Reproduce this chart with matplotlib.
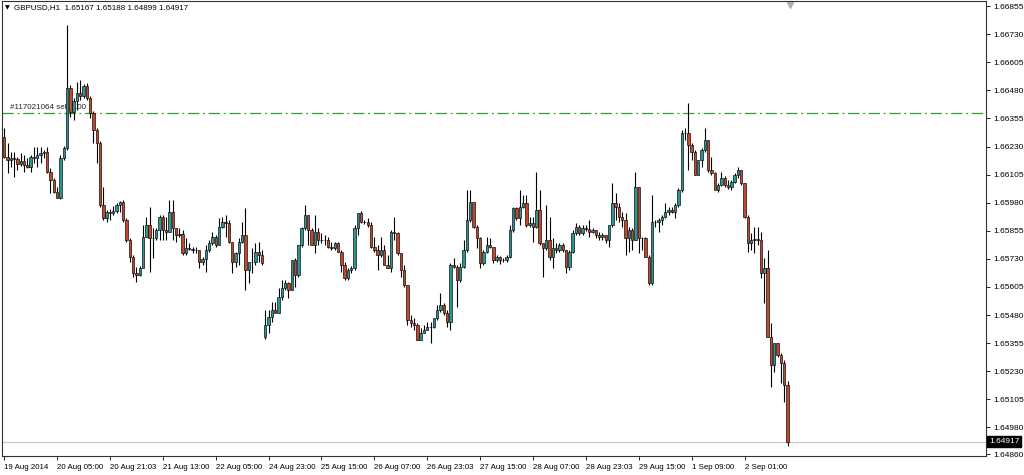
import numpy as np
import matplotlib.pyplot as plt

# GBPUSD H1 candles, 19 Aug 2014 13:00 .. 2 Sep 2014
opens = [
    1.66272, 1.66183, 1.66170, 1.66179, 1.66174, 1.66152, 1.66166, 1.66148, 1.66139, 1.66183,
    1.66179, 1.66192, 1.66201, 1.66205, 1.66116, 1.66080, 1.66027, 1.66000, 1.66179, 1.66223,
    1.66490, 1.66384, 1.66433, 1.66468, 1.66455, 1.66499, 1.66446, 1.66379, 1.66303, 1.66246,
    1.65970, 1.65912, 1.65939, 1.65934, 1.65943, 1.65970, 1.65983, 1.65903, 1.65814, 1.65738,
    1.65667, 1.65658, 1.65689, 1.65827, 1.65881, 1.65823, 1.65823, 1.65858, 1.65916, 1.65858,
    1.65850, 1.65939, 1.65867, 1.65836, 1.65841, 1.65756, 1.65778, 1.65774, 1.65769, 1.65769,
    1.65716, 1.65729, 1.65769, 1.65801, 1.65827, 1.65792, 1.65872, 1.65894, 1.65890, 1.65805,
    1.65716, 1.65756, 1.65805, 1.65836, 1.65680, 1.65716, 1.65716, 1.65760, 1.65747, 1.65382,
    1.65436, 1.65471, 1.65502, 1.65489, 1.65560, 1.65600, 1.65623, 1.65592, 1.65725, 1.65658,
    1.65792, 1.65867, 1.65925, 1.65858, 1.65792, 1.65850, 1.65814, 1.65814, 1.65814, 1.65783,
    1.65778, 1.65801, 1.65760, 1.65703, 1.65645, 1.65680, 1.65689, 1.65867, 1.65934, 1.65894,
    1.65894, 1.65881, 1.65783, 1.65769, 1.65747, 1.65769, 1.65703, 1.65689, 1.65850, 1.65845,
    1.65756, 1.65680, 1.65614, 1.65458, 1.65445, 1.65436, 1.65369, 1.65400, 1.65413, 1.65427,
    1.65425, 1.65467, 1.65502, 1.65525, 1.65489, 1.65449, 1.65703, 1.65694, 1.65636, 1.65694,
    1.65769, 1.65903, 1.65983, 1.65872, 1.65823, 1.65712, 1.65760, 1.65792, 1.65783, 1.65725,
    1.65738, 1.65725, 1.65723, 1.65738, 1.65858, 1.65956, 1.65912, 1.65961, 1.65979, 1.65881,
    1.65890, 1.65872, 1.65947, 1.65801, 1.65778, 1.65814, 1.65738, 1.65778, 1.65769, 1.65792,
    1.65769, 1.65694, 1.65760, 1.65845, 1.65872, 1.65845, 1.65867, 1.65865, 1.65850, 1.65858,
    1.65836, 1.65827, 1.65836, 1.65814, 1.65881, 1.65979, 1.65961, 1.65916, 1.65903, 1.65823,
    1.65858, 1.65814, 1.66049, 1.65823, 1.65821, 1.65738, 1.65623, 1.65894, 1.65892, 1.65903,
    1.65916, 1.65939, 1.65947, 1.65939, 1.65970, 1.66036, 1.66290, 1.66288, 1.66237, 1.66205,
    1.66103, 1.66170, 1.66214, 1.66259, 1.66125, 1.66112, 1.66036, 1.66058, 1.66089, 1.66058,
    1.66049, 1.66072, 1.66103, 1.66125, 1.66067, 1.65916, 1.65801, 1.65814, 1.65818, 1.65814,
    1.65667, 1.65689, 1.65382, 1.65258, 1.65356, 1.65302, 1.65267, 1.65167,
]
highs = [
    1.66312, 1.66246, 1.66205, 1.66205, 1.66183, 1.66201, 1.66192, 1.66179, 1.66192, 1.66228,
    1.66228, 1.66228, 1.66214, 1.66228, 1.66134, 1.66089, 1.66049, 1.66192, 1.66232, 1.66771,
    1.66504, 1.66446, 1.66517, 1.66526, 1.66508, 1.66513, 1.66455, 1.66388, 1.66312, 1.66255,
    1.66049, 1.65947, 1.65952, 1.65965, 1.65979, 1.65988, 1.65992, 1.65912, 1.65823, 1.65747,
    1.65694, 1.65698, 1.65881, 1.65916, 1.65961, 1.65867, 1.65867, 1.65925, 1.65925, 1.65916,
    1.65992, 1.65992, 1.65867, 1.65867, 1.65858, 1.65823, 1.65801, 1.65783, 1.65783, 1.65769,
    1.65738, 1.65792, 1.65814, 1.65850, 1.65836, 1.65912, 1.65916, 1.65925, 1.65903, 1.65805,
    1.65760, 1.65823, 1.65894, 1.65956, 1.65716, 1.65778, 1.65801, 1.65805, 1.65769, 1.65502,
    1.65502, 1.65538, 1.65538, 1.65600, 1.65636, 1.65636, 1.65627, 1.65725, 1.65734, 1.65792,
    1.65872, 1.65970, 1.65925, 1.65867, 1.65925, 1.65867, 1.65845, 1.65836, 1.65827, 1.65805,
    1.65805, 1.65805, 1.65769, 1.65716, 1.65689, 1.65698, 1.65881, 1.65934, 1.65943, 1.65903,
    1.65912, 1.65894, 1.65827, 1.65792, 1.65827, 1.65792, 1.65747, 1.65858, 1.65916, 1.65850,
    1.65756, 1.65703, 1.65614, 1.65480, 1.65467, 1.65445, 1.65422, 1.65436, 1.65449, 1.65449,
    1.65467, 1.65525, 1.65578, 1.65534, 1.65502, 1.65712, 1.65734, 1.65703, 1.65712, 1.65814,
    1.66036, 1.66036, 1.65983, 1.65881, 1.65827, 1.65769, 1.65827, 1.65823, 1.65783, 1.65747,
    1.65743, 1.65734, 1.65747, 1.65881, 1.65961, 1.65961, 1.66036, 1.66014, 1.66014, 1.65916,
    1.65916, 1.66116, 1.66036, 1.65801, 1.65970, 1.65916, 1.65823, 1.65801, 1.65801, 1.65801,
    1.65769, 1.65769, 1.65858, 1.65890, 1.65881, 1.65881, 1.65881, 1.65903, 1.65867, 1.65858,
    1.65850, 1.65845, 1.65836, 1.65881, 1.66067, 1.66023, 1.65979, 1.65939, 1.65934, 1.65872,
    1.65867, 1.66116, 1.66049, 1.65827, 1.65827, 1.65747, 1.66014, 1.65903, 1.65912, 1.65925,
    1.65979, 1.65961, 1.65961, 1.65979, 1.66045, 1.66303, 1.66312, 1.66424, 1.66246, 1.66214,
    1.66170, 1.66223, 1.66312, 1.66259, 1.66183, 1.66116, 1.66067, 1.66116, 1.66098, 1.66080,
    1.66080, 1.66112, 1.66139, 1.66125, 1.66067, 1.65925, 1.65845, 1.65872, 1.65872, 1.65850,
    1.65734, 1.65769, 1.65445, 1.65356, 1.65356, 1.65311, 1.65280, 1.65188,
]
lows = [
    1.66179, 1.66112, 1.66139, 1.66094, 1.66125, 1.66143, 1.66116, 1.66134, 1.66116, 1.66157,
    1.66139, 1.66157, 1.66179, 1.66112, 1.66023, 1.66023, 1.66000, 1.65996, 1.66170, 1.66214,
    1.66361, 1.66348, 1.66392, 1.66437, 1.66446, 1.66437, 1.66357, 1.66246, 1.66157, 1.65961,
    1.65903, 1.65894, 1.65903, 1.65925, 1.65934, 1.65939, 1.65894, 1.65805, 1.65716, 1.65649,
    1.65627, 1.65654, 1.65689, 1.65827, 1.65671, 1.65734, 1.65814, 1.65814, 1.65814, 1.65814,
    1.65850, 1.65814, 1.65805, 1.65827, 1.65747, 1.65747, 1.65769, 1.65756, 1.65756, 1.65689,
    1.65703, 1.65671, 1.65760, 1.65792, 1.65783, 1.65792, 1.65867, 1.65827, 1.65801, 1.65667,
    1.65694, 1.65703, 1.65801, 1.65592, 1.65623, 1.65667, 1.65703, 1.65716, 1.65703, 1.65373,
    1.65400, 1.65449, 1.65489, 1.65489, 1.65547, 1.65592, 1.65556, 1.65592, 1.65605, 1.65649,
    1.65783, 1.65858, 1.65792, 1.65792, 1.65756, 1.65792, 1.65801, 1.65792, 1.65778, 1.65769,
    1.65769, 1.65760, 1.65671, 1.65636, 1.65636, 1.65667, 1.65680, 1.65836, 1.65890, 1.65885,
    1.65872, 1.65778, 1.65760, 1.65680, 1.65738, 1.65703, 1.65689, 1.65671, 1.65814, 1.65747,
    1.65649, 1.65605, 1.65436, 1.65427, 1.65413, 1.65369, 1.65369, 1.65400, 1.65413, 1.65356,
    1.65422, 1.65458, 1.65494, 1.65480, 1.65427, 1.65413, 1.65689, 1.65516, 1.65627, 1.65689,
    1.65760, 1.65894, 1.65867, 1.65778, 1.65689, 1.65703, 1.65756, 1.65778, 1.65712, 1.65716,
    1.65707, 1.65716, 1.65716, 1.65734, 1.65850, 1.65903, 1.65881, 1.65956, 1.65872, 1.65872,
    1.65805, 1.65867, 1.65792, 1.65649, 1.65769, 1.65725, 1.65689, 1.65756, 1.65760, 1.65760,
    1.65667, 1.65680, 1.65756, 1.65836, 1.65836, 1.65836, 1.65854, 1.65827, 1.65845, 1.65823,
    1.65814, 1.65814, 1.65801, 1.65783, 1.65872, 1.65903, 1.65894, 1.65872, 1.65747, 1.65760,
    1.65769, 1.65814, 1.65756, 1.65769, 1.65738, 1.65614, 1.65614, 1.65872, 1.65850, 1.65881,
    1.65912, 1.65925, 1.65934, 1.65912, 1.65961, 1.66027, 1.66259, 1.66125, 1.66170, 1.66103,
    1.66103, 1.66139, 1.66205, 1.66116, 1.66103, 1.66036, 1.66027, 1.66054, 1.66049, 1.66040,
    1.66036, 1.66067, 1.66089, 1.66058, 1.65912, 1.65760, 1.65769, 1.65756, 1.65792, 1.65645,
    1.65534, 1.65382, 1.65160, 1.65227, 1.65293, 1.65178, 1.65093, 1.64899,
]
closes = [
    1.66183, 1.66170, 1.66179, 1.66174, 1.66152, 1.66166, 1.66148, 1.66139, 1.66183, 1.66179,
    1.66192, 1.66201, 1.66205, 1.66116, 1.66080, 1.66027, 1.66000, 1.66179, 1.66223, 1.66490,
    1.66384, 1.66433, 1.66468, 1.66455, 1.66499, 1.66446, 1.66379, 1.66303, 1.66246, 1.65970,
    1.65912, 1.65939, 1.65934, 1.65943, 1.65970, 1.65983, 1.65903, 1.65814, 1.65738, 1.65667,
    1.65658, 1.65689, 1.65827, 1.65881, 1.65823, 1.65823, 1.65858, 1.65916, 1.65858, 1.65850,
    1.65939, 1.65867, 1.65836, 1.65841, 1.65756, 1.65778, 1.65774, 1.65769, 1.65769, 1.65716,
    1.65729, 1.65769, 1.65801, 1.65827, 1.65792, 1.65872, 1.65894, 1.65890, 1.65805, 1.65716,
    1.65756, 1.65805, 1.65836, 1.65680, 1.65716, 1.65716, 1.65760, 1.65747, 1.65712, 1.65436,
    1.65471, 1.65502, 1.65489, 1.65560, 1.65600, 1.65623, 1.65592, 1.65725, 1.65658, 1.65792,
    1.65867, 1.65925, 1.65858, 1.65792, 1.65850, 1.65814, 1.65814, 1.65814, 1.65783, 1.65778,
    1.65801, 1.65760, 1.65703, 1.65645, 1.65680, 1.65689, 1.65867, 1.65934, 1.65894, 1.65894,
    1.65881, 1.65783, 1.65769, 1.65747, 1.65769, 1.65703, 1.65689, 1.65850, 1.65845, 1.65756,
    1.65680, 1.65614, 1.65458, 1.65445, 1.65436, 1.65369, 1.65400, 1.65413, 1.65427, 1.65425,
    1.65467, 1.65502, 1.65525, 1.65489, 1.65449, 1.65703, 1.65694, 1.65636, 1.65694, 1.65769,
    1.65903, 1.65983, 1.65872, 1.65823, 1.65712, 1.65760, 1.65792, 1.65783, 1.65725, 1.65738,
    1.65725, 1.65723, 1.65738, 1.65858, 1.65956, 1.65912, 1.65961, 1.65979, 1.65881, 1.65890,
    1.65872, 1.65947, 1.65801, 1.65778, 1.65814, 1.65738, 1.65778, 1.65769, 1.65792, 1.65769,
    1.65694, 1.65760, 1.65845, 1.65872, 1.65845, 1.65867, 1.65865, 1.65850, 1.65858, 1.65836,
    1.65827, 1.65836, 1.65814, 1.65881, 1.65979, 1.65961, 1.65916, 1.65903, 1.65823, 1.65858,
    1.65814, 1.66049, 1.65823, 1.65821, 1.65738, 1.65623, 1.65894, 1.65892, 1.65903, 1.65916,
    1.65939, 1.65947, 1.65939, 1.65970, 1.66036, 1.66290, 1.66288, 1.66237, 1.66205, 1.66103,
    1.66170, 1.66214, 1.66259, 1.66125, 1.66112, 1.66036, 1.66058, 1.66089, 1.66058, 1.66049,
    1.66072, 1.66103, 1.66125, 1.66067, 1.65916, 1.65801, 1.65814, 1.65818, 1.65814, 1.65667,
    1.65689, 1.65382, 1.65258, 1.65356, 1.65302, 1.65267, 1.65167, 1.64917,
]

time_labels = ['19 Aug 2014', '20 Aug 05:00', '20 Aug 21:03', '21 Aug 13:00', '22 Aug 05:00',
               '24 Aug 23:00', '25 Aug 15:00', '26 Aug 07:00', '26 Aug 23:03', '27 Aug 15:00',
               '28 Aug 07:00', '28 Aug 23:03', '29 Aug 15:00', '1 Sep 09:00', '2 Sep 01:00']
label_bars = [0, 16, 32, 48, 64, 80, 96, 112, 128, 144, 160, 176, 192, 208, 224]

price_ticks = [1.66855, 1.66730, 1.66605, 1.66480, 1.66355, 1.66230, 1.66105, 1.65980,
               1.65855, 1.65730, 1.65605, 1.65480, 1.65355, 1.65230, 1.65105, 1.64980, 1.64860]

order_price = 1.66379
order_text = '#117021064 sell 1.00'
bid = 1.64917
header = 'GBPUSD,H1  1.65167 1.65188 1.64899 1.64917'

bull = '#2b9591'
bear = '#c4472b'
font = 'Liberation Sans'

o = np.array(opens)
h = np.array(highs)
l = np.array(lows)
c = np.array(closes)
x = np.arange(len(c))

fig = plt.figure(figsize=(10.24, 4.75), dpi=100)
fig.patch.set_facecolor('white')
ax = fig.add_axes([2 / 1024, 1 - 456 / 475, 984 / 1024, 455 / 475])

# order line and label (behind the candles)
ax.axhline(order_price, color='#2ea02e', lw=0.9, dashes=(9, 3, 1.5, 3), zorder=1)
ax.text(1.6, order_price + 0.00008, order_text, fontsize=5.8, family=font, color='#222222',
        va='bottom', ha='left', zorder=1)
# bid line
ax.axhline(bid, color='#c8c8c8', lw=0.9, zorder=1)

ax.vlines(x, l, h, color='black', lw=0.8, zorder=2)
up = c >= o
colors = np.where(up, bull, bear)
ax.bar(x, np.abs(c - o), bottom=np.minimum(o, c), width=0.72, color=colors,
       edgecolor='black', linewidth=0.45, zorder=3)

ax.set_xlim(-0.67, 297.06)
ax.set_ylim(1.648528, 1.668775)

ax.yaxis.tick_right()
ax.set_yticks(price_ticks)
ax.set_yticklabels(['%.5f' % p for p in price_ticks], family=font, fontsize=6.0)
ax.set_xticks(label_bars)
ax.set_xticklabels(time_labels, family=font, fontsize=5.7, ha='left')
ax.tick_params(axis='both', length=3, width=0.6, colors='black', pad=2)
ax.tick_params(axis='x', pad=3)
for sp in ax.spines.values():
    sp.set_color('#333333')
    sp.set_linewidth(0.8)

# current price box
ax.text(1.003, bid, '%.5f' % bid, transform=ax.get_yaxis_transform(), fontsize=6.0,
        family=font, color='white', va='center', ha='left', clip_on=False,
        bbox=dict(boxstyle='square,pad=0.2', fc='black', ec='black'))

fig.text(14 / 1024, 1 - 8 / 475, header, fontsize=5.8, family=font, color='black',
         va='center', ha='left')
fig.text(5 / 1024, 1 - 8 / 475, '\u25bc', fontsize=4.5, color='black', va='center', ha='left')
ax.plot([(790 - 2) / 984], [0.992], marker='v', color='#b0b0b0', ms=5,
        transform=ax.transAxes, clip_on=False)

fig.savefig('out.png', dpi=100)
